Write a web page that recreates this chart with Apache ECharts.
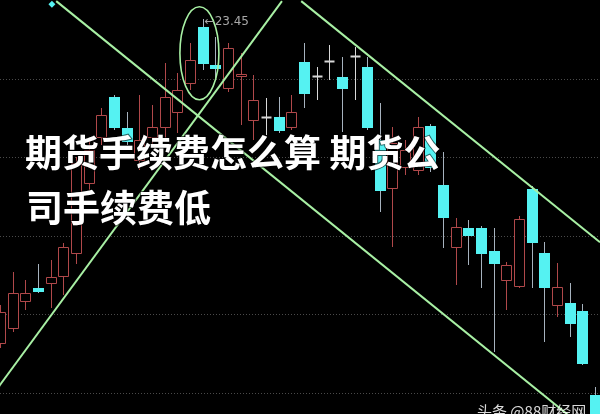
<!DOCTYPE html>
<html>
<head>
<meta charset="utf-8">
<script src="https://cdn.jsdelivr.net/npm/echarts@6/dist/echarts.min.js"></script>
<style>html,body{margin:0;padding:0;background:#000;}#c{width:600px;height:414px;}</style>
</head>
<body>
<div id="c"></div>
<script>
// Candle values (price units)
const opens  = [18.30,18.54,18.97,19.17,19.25,19.36,19.73,20.84,21.58,22.21,21.72,21.21,21.58,21.74,21.97,22.44,23.33,22.72,22.36,22.55,21.85,21.90,21.90,21.74,22.77,22.55,22.79,22.53,22.87,22.69,21.53,20.76,21.10,21.05,21.75,20.81,19.82,20.13,20.13,19.76,19.30,19.20,20.75,19.73,18.90,18.93,18.81,17.47];
const closes = [18.79,19.09,19.09,19.12,19.35,19.82,21.16,21.37,21.93,21.74,21.51,21.53,21.74,22.21,22.32,22.80,22.75,22.68,22.99,22.58,22.17,21.90,21.69,21.97,22.28,22.55,22.79,22.36,22.87,21.74,20.73,21.48,21.37,21.74,21.10,20.30,20.14,20.02,19.73,19.57,19.54,20.27,19.90,19.19,19.19,18.62,17.98,17.00];
const lows   = [18.22,18.47,18.82,19.09,18.85,19.06,19.55,20.73,21.45,21.69,21.45,21.05,21.45,21.53,21.64,22.32,22.64,22.48,22.29,21.77,21.53,21.61,21.64,21.69,22.04,22.17,22.48,21.66,22.17,21.69,20.38,19.82,20.97,20.97,21.02,19.81,19.22,19.54,19.17,18.15,18.82,19.17,19.17,18.31,18.71,18.39,17.95,17.00];
const highs  = [18.90,19.43,19.30,19.55,19.62,19.89,21.26,21.53,22.04,22.25,21.97,22.25,22.09,22.75,22.60,23.07,23.45,23.17,23.07,22.91,22.56,22.20,22.21,22.25,23.07,22.69,23.04,22.85,23.01,22.85,22.12,21.74,21.53,21.90,21.78,21.34,20.29,20.26,20.16,20.13,19.59,20.32,20.80,19.90,19.57,19.25,18.92,17.60];
// Horizontal price grid levels
const gridLevels = [17.5, 18.75, 20, 21.25, 22.5];
// Hand-drawn trend lines, as [candle index, price] end points
const trendA = [[4.44, 23.74], [47.39, 16.74]];
const trendB = [[23.79, 23.74], [47.39, 19.90]];
const trendC = [[-0.47, 17.50], [22.27, 23.74]];
const titleLines = ['期货手续费怎么算 期货公', '司手续费低'];
const watermark = '头条 @88财经网';

const candleData = opens.map((o, i) => [i, o, closes[i], lows[i], highs[i]]);

const UP = '#b0484a', DOWN = '#55f2f2', DOWN_WICK = '#a6b2be', FLAT = '#d8d8d8';
function renderCandle(params, api) {
  const i = api.value(0), o = api.value(1), c = api.value(2), l = api.value(3), h = api.value(4);
  const pO = api.coord([i, o]), pC = api.coord([i, c]), pL = api.coord([i, l]), pH = api.coord([i, h]);
  const x = Math.round(pO[0]) + 0.5;
  const w = 10;
  const top = Math.round(Math.min(pO[1], pC[1])) + 0.5;
  const bot = Math.max(Math.round(Math.max(pO[1], pC[1])) + 0.5, top + 1);
  const yH = Math.round(pH[1]), yL = Math.round(pL[1]);
  const ch = [];
  if (o === c) {
    ch.push({type: 'line', shape: {x1: x, y1: yH, x2: x, y2: yL}, style: {stroke: FLAT, lineWidth: 1}});
    ch.push({type: 'line', shape: {x1: x - w / 2, y1: top, x2: x + w / 2, y2: top}, style: {stroke: FLAT, lineWidth: 2}});
  } else if (c > o) {
    ch.push({type: 'line', shape: {x1: x, y1: yH, x2: x, y2: top}, style: {stroke: UP, lineWidth: 1}});
    ch.push({type: 'line', shape: {x1: x, y1: bot, x2: x, y2: yL}, style: {stroke: UP, lineWidth: 1}});
    ch.push({type: 'rect', shape: {x: x - w / 2, y: top, width: w, height: bot - top}, style: {stroke: UP, fill: '#000', lineWidth: 1}});
  } else {
    ch.push({type: 'line', shape: {x1: x, y1: yH, x2: x, y2: yL}, style: {stroke: DOWN_WICK, lineWidth: 1}});
    ch.push({type: 'rect', shape: {x: x - w / 2 - 0.5, y: top - 0.5, width: w + 1, height: Math.max(bot - top + 1, 2)}, style: {fill: DOWN}});
  }
  return {type: 'group', children: ch};
}

const lineStyle = {color: '#a8f0a4', width: 2};
const chart = echarts.init(document.getElementById('c'), null, {renderer: 'canvas'});
chart.setOption({
  animation: false,
  backgroundColor: '#000',
  grid: {left: 0, right: 0, top: 0, bottom: 0, containLabel: false},
  xAxis: {type: 'value', min: 0, max: 47.39, show: false, splitLine: {show: false}},
  yAxis: {
    type: 'value', min: 17.165, max: 23.758, show: false,
    axisLine: {show: false}, axisTick: {show: false}, axisLabel: {show: false},
    splitLine: {show: false}
  },
  series: [
    {type: 'custom', renderItem: renderCandle, data: candleData, encode: {x: 0, y: [1, 2, 3, 4]}, z: 2,
     markLine: {silent: true, symbol: 'none', label: {show: false}, z: 1,
       lineStyle: {color: '#4a4a4a', type: [1, 2], width: 1},
       data: gridLevels.map(v => ({yAxis: v}))}},
    {type: 'line', data: trendA, showSymbol: false, lineStyle, z: 3},
    {type: 'line', data: trendB, showSymbol: false, lineStyle, z: 3},
    {type: 'line', data: trendC, showSymbol: false, lineStyle, z: 3}
  ]
});

// annotations placed through the chart's own scales
let maxI = 0;
highs.forEach((v, i) => { if (v > highs[maxI]) maxI = i; });
const pMax = chart.convertToPixel({gridIndex: 0}, [maxI, highs[maxI]]);
const pEll = chart.convertToPixel({gridIndex: 0}, [maxI - 0.25, 22.91]);
const pDia = chart.convertToPixel({gridIndex: 0}, [4.1, 23.69]);
chart.setOption({
  graphic: [
    {type: 'ellipse', shape: {cx: pEll[0], cy: pEll[1], rx: 19.5, ry: 46.5}, style: {fill: 'none', stroke: '#a8f0a4', lineWidth: 1.6}, z: 10},
    {type: 'text', x: pMax[0] + 2, y: pMax[1] + 3, style: {text: '←' + highs[maxI].toFixed(2), fill: '#a8a8a8', font: '12px "DejaVu Sans", sans-serif', verticalAlign: 'middle'}, z: 10},
    {type: 'polygon', shape: {points: [[pDia[0], pDia[1] - 3.5], [pDia[0] + 3.5, pDia[1]], [pDia[0], pDia[1] + 3.5], [pDia[0] - 3.5, pDia[1]]]}, style: {fill: '#55f2f2'}, z: 10},
    {type: 'text', x: 25, y: 153, style: {text: titleLines[0], fill: '#fff', font: 'bold 37px "Noto Sans CJK SC"', verticalAlign: 'middle', shadowColor: 'rgba(0,0,0,0.9)', shadowBlur: 5, stroke: 'rgba(0,0,0,0.6)', lineWidth: 2}, z: 20},
    {type: 'text', x: 26, y: 208, style: {text: titleLines[1], fill: '#fff', font: 'bold 37px "Noto Sans CJK SC"', verticalAlign: 'middle', shadowColor: 'rgba(0,0,0,0.9)', shadowBlur: 5, stroke: 'rgba(0,0,0,0.6)', lineWidth: 2}, z: 20},
    {type: 'text', x: 477, y: 404, style: {text: watermark, fill: 'rgba(255,255,255,0.85)', font: '15px "Noto Sans CJK SC"', verticalAlign: 'top'}, z: 20}
  ]
});
</script>
</body>
</html>
